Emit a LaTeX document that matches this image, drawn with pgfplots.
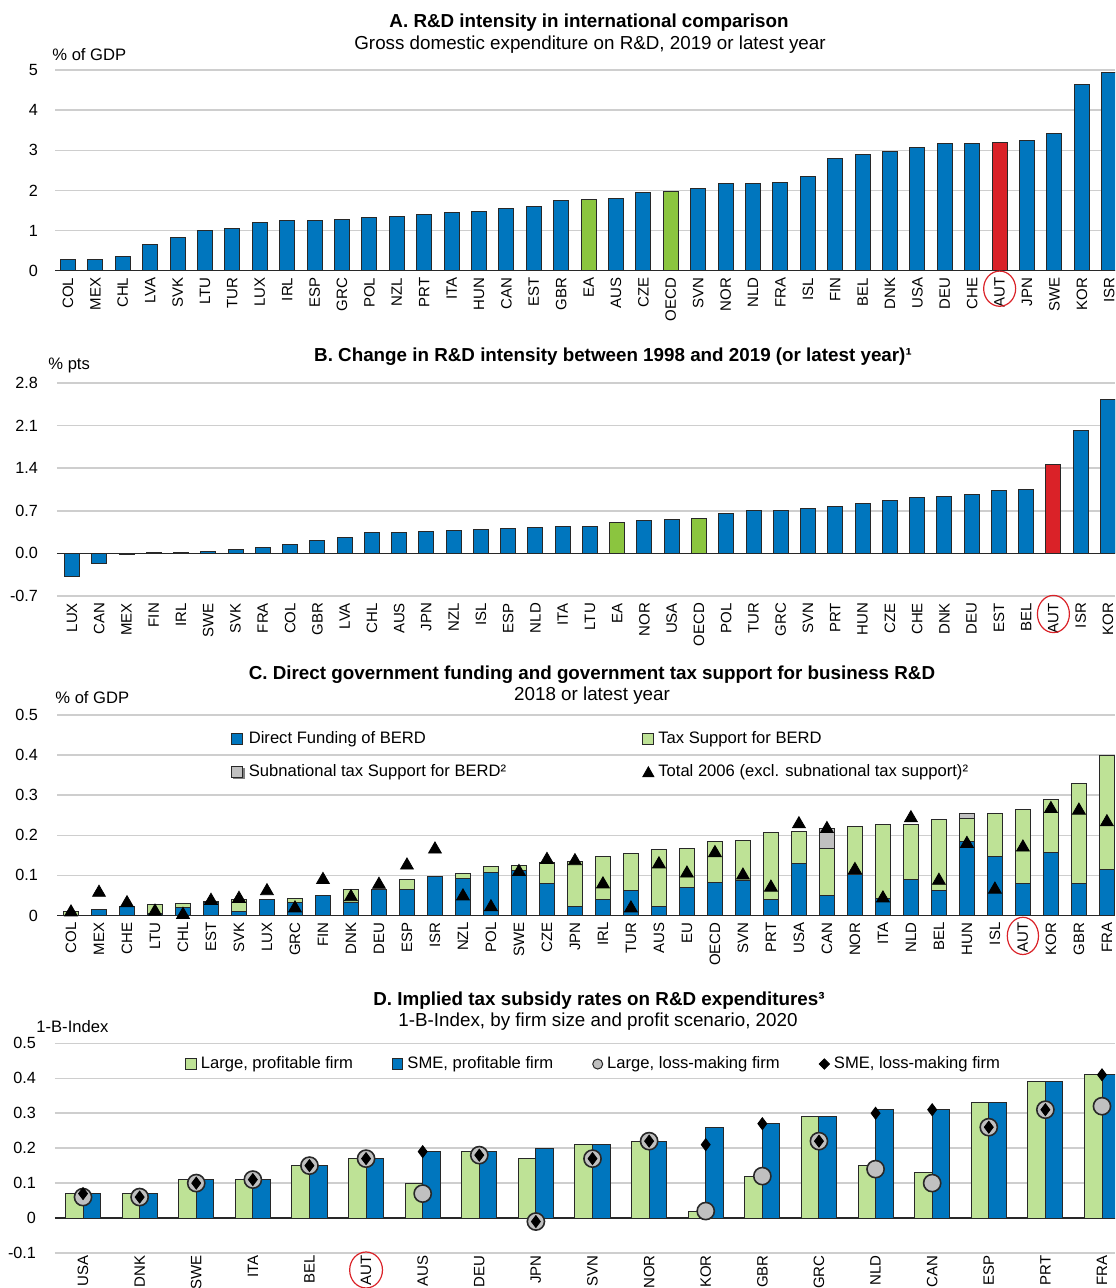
\documentclass[border=0pt]{standalone}
\usepackage{fontspec}
\setmainfont{Liberation Sans}
\usepackage{pgfplots}
\usepackage{pgfplotstable}
\pgfplotsset{compat=1.18}

\definecolor{oblue}{RGB}{0,118,190}
\definecolor{ored}{RGB}{218,34,40}
\definecolor{ogreen}{RGB}{139,197,63}
\definecolor{lgreen}{RGB}{190,226,150}
\definecolor{sgrey}{RGB}{192,192,192}
\definecolor{gridc}{RGB}{206,206,206}
\definecolor{edge}{RGB}{40,40,40}

\newcommand{\tickfont}{\fontsize{8.1}{9}\selectfont}
\newcommand{\catfont}{\fontsize{7.5}{8}\selectfont}
\newcommand{\titlefont}{\fontsize{9.4}{11}\selectfont}
\newcommand{\ylabfont}{\fontsize{8.3}{10}\selectfont}
\newcommand{\legfont}{\fontsize{8.3}{10}\selectfont}

\pgfplotstableread{
i dir tax sub tri
0 0.001 0.009 0 0.008
1 0.015 0.001 0 0.057
2 0.022 0.001 0 0.031
3 0.004 0.023 0 0.010
4 0.021 0.009 0 0.002
5 0.033 0.002 0 0.037
6 0.010 0.029 0 0.042
7 0.041 0 0 0.061
8 0.033 0.009 0 0.018
9 0.051 0 0 0.089
10 0.032 0.032 0 0.046
11 0.066 0 0 0.077
12 0.064 0.027 0 0.125
13 0.098 0 0 0.165
14 0.093 0.012 0 0.048
15 0.108 0.015 0 0.021
16 0.111 0.013 0 0.109
17 0.081 0.050 0 0.139
18 0.022 0.113 0 0.136
19 0.039 0.108 0 0.078
20 0.062 0.092 0 0.018
21 0.022 0.143 0 0.128
22 0.071 0.095 0 0.105
23 0.083 0.101 0 0.156
24 0.087 0.101 0 0.100
25 0.039 0.167 0 0.070
26 0.129 0.080 0 0.228
27 0.051 0.117 0.050 0.216
28 0.101 0.121 0 0.114
29 0.043 0.185 0 0.043
30 0.091 0.137 0 0.243
31 0.063 0.176 0 0.087
32 0.185 0.058 0.011 0.179
33 0.147 0.107 0 0.065
34 0.081 0.184 0 0.170
35 0.158 0.132 0 0.266
36 0.079 0.251 0 0.262
37 0.115 0.285 0 0.233
}\tabC

\pgfplotstableread{
i lp sp ll sl
0 0.07 0.07 0.06 0.07
1 0.07 0.07 0.06 0.06
2 0.11 0.11 0.10 0.10
3 0.11 0.11 0.11 0.11
4 0.15 0.15 0.15 0.15
5 0.17 0.17 0.17 0.17
6 0.10 0.19 0.07 0.19
7 0.19 0.19 0.18 0.18
8 0.17 0.20 -0.01 -0.01
9 0.21 0.21 0.17 0.17
10 0.22 0.22 0.22 0.22
11 0.02 0.26 0.02 0.21
12 0.12 0.27 0.12 0.27
13 0.29 0.29 0.22 0.22
14 0.15 0.31 0.14 0.30
15 0.13 0.31 0.10 0.31
16 0.33 0.33 0.26 0.26
17 0.39 0.39 0.31 0.31
18 0.41 0.41 0.32 0.41
}\tabD

\pgfplotsset{
  oecd/.style={
    scale only axis, anchor=south west,
    axis line style={draw=none},
    major tick length=0pt,
    ymajorgrids, grid style={gridc, line width=0.75pt},
    extra y ticks={0}, extra y tick labels={},
    extra y tick style={grid style={edge, line width=0.7pt}},
    yticklabel style={font=\tickfont, /pgf/number format/assume math mode=true},
    xticklabel style={font=\catfont, rotate=90, anchor=east},
  },
  bb/.style={ybar, bar shift=0pt, draw=edge, line width=0.5pt},
}

\begin{document}
\begin{tikzpicture}
\useasboundingbox (0,0) rectangle (557.5pt,644pt);

% ---------------- Panel A
\begin{axis}[oecd, at={(27.5pt,508.65pt)}, width=530pt, height=100.35pt,
  xmin=-0.474, xmax=38.21, ymin=0, ymax=5, ytick={0,1,2,3,4,5},
  yticklabel style={xshift=-5pt},
  xtick={0,...,38},
  xticklabels={COL,MEX,CHL,LVA,SVK,LTU,TUR,LUX,IRL,ESP,GRC,POL,NZL,PRT,ITA,HUN,CAN,EST,GBR,EA,AUS,CZE,OECD,SVN,NOR,NLD,FRA,ISL,FIN,BEL,DNK,USA,DEU,CHE,AUT,JPN,SWE,KOR,ISR}]
\addplot[bb, bar width=0.55, fill=oblue] coordinates {
(0,0.28) (1,0.28) (2,0.35) (3,0.64) (4,0.83) (5,1.00) (6,1.05) (7,1.19) (8,1.24) (9,1.25)
(10,1.28) (11,1.33) (12,1.34) (13,1.40) (14,1.45) (15,1.48) (16,1.54) (17,1.61) (18,1.76)
(20,1.79) (21,1.95) (23,2.05) (24,2.16) (25,2.17) (26,2.20) (27,2.35) (28,2.79) (29,2.89)
(30,2.96) (31,3.07) (32,3.18) (33,3.18) (35,3.24) (36,3.42) (37,4.64) (38,4.94)};
\addplot[bb, bar width=0.55, fill=ogreen] coordinates {(19,1.78) (22,1.98)};
\addplot[bb, bar width=0.55, fill=ored] coordinates {(34,3.19)};
\coordinate (autA) at (axis cs:34,0);
\end{axis}

% ---------------- Panel B
\begin{axis}[oecd, at={(28.5pt,346pt)}, width=529pt, height=106.5pt,
  xmin=-0.55, xmax=38.26, ymin=-0.7, ymax=2.8, ytick={-0.7,0,0.7,1.4,2.1,2.8},
  yticklabel style={xshift=-6pt, /pgf/number format/.cd, fixed, fixed zerofill, precision=1},
  xtick={0,...,38},
  xticklabels={LUX,CAN,MEX,FIN,IRL,SWE,SVK,FRA,COL,GBR,LVA,CHL,AUS,JPN,NZL,ISL,ESP,NLD,ITA,LTU,EA,NOR,USA,OECD,POL,TUR,GRC,SVN,PRT,HUN,CZE,CHE,DNK,DEU,EST,BEL,AUT,ISR,KOR}]
\addplot[bb, bar width=0.55, fill=oblue] coordinates {
(0,-0.38) (1,-0.17) (2,-0.02) (3,0.02) (4,0.02) (5,0.03) (6,0.07) (7,0.10) (8,0.14) (9,0.21)
(10,0.26) (11,0.35) (12,0.35) (13,0.36) (14,0.38) (15,0.40) (16,0.41) (17,0.42) (18,0.44) (19,0.44)
(21,0.54) (22,0.56) (24,0.66) (25,0.70) (26,0.70) (27,0.74) (28,0.77) (29,0.82)
(30,0.87) (31,0.92) (32,0.94) (33,0.96) (34,1.04) (35,1.05) (37,2.02) (38,2.53)};
\addplot[bb, bar width=0.55, fill=ogreen] coordinates {(20,0.50) (23,0.57)};
\addplot[bb, bar width=0.55, fill=ored] coordinates {(36,1.46)};
\coordinate (autB) at (axis cs:36,-0.7);
\end{axis}

% ---------------- Panel C
\begin{axis}[oecd, at={(28.5pt,186.25pt)}, width=529pt, height=100.25pt,
  xmin=-0.5, xmax=37.29, ymin=0, ymax=0.5, ytick={0,0.1,0.2,0.3,0.4,0.5},
  yticklabel style={xshift=-6pt},
  xtick={0,...,37},
  xticklabels={COL,MEX,CHE,LTU,CHL,EST,SVK,LUX,GRC,FIN,DNK,DEU,ESP,ISR,NZL,POL,SWE,CZE,JPN,IRL,TUR,AUS,EU,OECD,SVN,PRT,USA,CAN,NOR,ITA,NLD,BEL,HUN,ISL,AUT,KOR,GBR,FRA},
  ybar stacked, bar width=0.56,
  legend columns=2,
  legend style={draw=none, fill=none, font=\legfont, at={(0.1588,0.798)}, anchor=west,
    /tikz/every even column/.append style={column sep=66pt}, row sep=5pt},
  legend cell align=left]
\addplot[draw=edge, line width=0.5pt, fill=oblue,
  legend image code/.code={\draw[fill=oblue,draw=edge,line width=0.5pt] (0pt,-2.6pt) rectangle (5.2pt,2.6pt);}]
  table[x=i,y=dir]{\tabC};
\addlegendentry{Direct Funding of BERD}
\addplot[draw=edge, line width=0.5pt, fill=lgreen,
  legend image code/.code={\draw[fill=lgreen,draw=edge,line width=0.5pt] (0pt,-2.6pt) rectangle (5.2pt,2.6pt);}]
  table[x=i,y=tax]{\tabC};
\addlegendentry{Tax Support for BERD}
\addplot[draw=edge, line width=0.5pt, fill=sgrey,
  legend image code/.code={\fill[gray] (1pt,-3.4pt) rectangle (6.2pt,1.8pt);\draw[fill=sgrey,draw=edge,line width=0.5pt] (0pt,-2.6pt) rectangle (5.2pt,2.6pt);}]
  table[x=i,y=sub]{\tabC};
\addlegendentry{Subnational tax Support for BERD²}
\addlegendimage{legend image code/.code={\fill[black] (0pt,-2.4pt) -- (5.6pt,-2.4pt) -- (2.8pt,2.6pt) -- cycle;}}
\addlegendentry{Total 2006 (excl. subnational tax support)²}
\coordinate (autC) at (axis cs:34,0);
\end{axis}
\begin{axis}[scale only axis, anchor=south west, at={(28.5pt,186.25pt)}, width=529pt, height=100.25pt,
  xmin=-0.5, xmax=37.29, ymin=0, ymax=0.5, hide axis, clip=false]
\addplot[only marks, mark=triangle*, mark size=3.7pt, mark options={fill=black, draw=black}]
  table[x=i,y=tri]{\tabC};
\end{axis}

% ---------------- Panel D
\begin{axis}[oecd, at={(27.5pt,17.5pt)}, width=530pt, height=104.85pt,
  xmin=-0.495, xmax=18.23, ymin=-0.1, ymax=0.5, ytick={-0.1,0,0.1,0.2,0.3,0.4,0.5},
  yticklabel style={xshift=-6pt},
  xtick={0,...,18},
  xticklabel style={inner sep=1pt},
  xticklabels={USA,DNK,SWE,ITA,BEL,AUT,AUS,DEU,JPN,SVN,NOR,KOR,GBR,GRC,NLD,CAN,ESP,PRT,FRA},
  legend columns=4,
  legend style={draw=none, fill=none, font=\legfont, at={(0.1170,0.901)}, anchor=west,
    /tikz/every even column/.append style={column sep=17.5pt}},
  legend cell align=left]
\addplot[bb, bar width=0.31, bar shift=-0.155, fill=lgreen,
  legend image code/.code={\draw[fill=lgreen,draw=edge,line width=0.5pt] (0pt,-2.6pt) rectangle (5.2pt,2.6pt);}]
  table[x=i,y=lp]{\tabD};
\addlegendentry{Large, profitable firm}
\addplot[bb, bar width=0.31, bar shift=0.155, fill=oblue,
  legend image code/.code={\draw[fill=oblue,draw=edge,line width=0.5pt] (0pt,-2.6pt) rectangle (5.2pt,2.6pt);}]
  table[x=i,y=sp]{\tabD};
\addlegendentry{SME, profitable firm}
\addplot[only marks, mark=*, mark size=4.3pt, mark options={fill=sgrey, draw=edge, line width=0.8pt},
  legend image code/.code={\draw[fill=sgrey,draw=edge,line width=0.5pt] (2.6pt,0pt) circle (2.5pt);}]
  table[x=i,y=ll]{\tabD};
\addlegendentry{Large, loss-making firm}
\addplot[only marks, mark=diamond*, mark size=3pt, mark options={fill=black, draw=black},
  legend image code/.code={\fill[black] (0pt,0pt) -- (2.6pt,2.6pt) -- (5.2pt,0pt) -- (2.6pt,-2.6pt) -- cycle;}]
  table[x=i,y=sl]{\tabD};
\addlegendentry{SME, loss-making firm}
\coordinate (autD) at (axis cs:5,-0.1);
\end{axis}

% ---------------- red circles around AUT
\draw[ored, line width=0.6pt] ([yshift=-9pt]autA) ellipse [x radius=8pt, y radius=8.8pt];
\draw[ored, line width=0.6pt] ([yshift=-9pt]autB) ellipse [x radius=8pt, y radius=9.3pt];
\draw[ored, line width=0.6pt] ([yshift=-10.2pt]autC) ellipse [x radius=7.8pt, y radius=9.3pt];
\draw[ored, line width=0.6pt] ([yshift=-8.5pt]autD) ellipse [x radius=8.2pt, y radius=9pt];

% ---------------- titles
\node[font=\titlefont\bfseries] at (294.5pt,632.5pt) {A. R\&D intensity in international comparison};
\node[font=\titlefont] at (295pt,621.5pt) {Gross domestic expenditure on R\&D, 2019 or latest year};
\node[font=\ylabfont, anchor=west, inner sep=0pt] at (26pt,616.5pt) {\% of GDP};

\node[font=\titlefont\bfseries] at (306.5pt,465.5pt) {B. Change in R\&D intensity between 1998 and 2019 (or latest year)¹};
\node[font=\ylabfont, anchor=west, inner sep=0pt] at (24pt,461.5pt) {\% pts};

\node[font=\titlefont\bfseries] at (296pt,306.5pt) {C. Direct government funding and government tax support for business R\&D};
\node[font=\titlefont] at (296pt,296pt) {2018 or latest year};
\node[font=\ylabfont, anchor=west, inner sep=0pt] at (27.5pt,295pt) {\% of GDP};

\node[font=\titlefont\bfseries] at (299.5pt,143.5pt) {D. Implied tax subsidy rates on R\&D expenditures³};
\node[font=\titlefont] at (299pt,133pt) {1-B-Index, by firm size and profit scenario, 2020};
\node[font=\ylabfont, anchor=west, inner sep=0pt] at (18pt,130.5pt) {1-B-Index};
\end{tikzpicture}
\end{document}
